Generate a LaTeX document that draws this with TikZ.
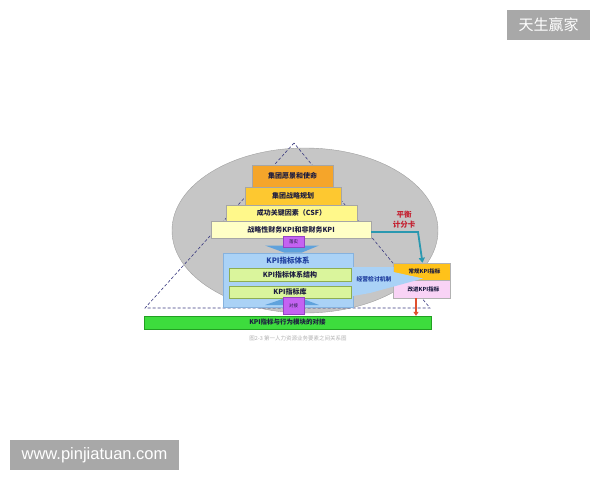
\documentclass[tikz,border=0pt]{standalone}
\usepackage{fontspec}
\newfontfamily\cjk{Noto Sans CJK SC}
\newfontfamily\urlfont{Liberation Sans}
\usetikzlibrary{arrows.meta,shapes.geometric}
\definecolor{ellfill}{HTML}{C6C6C6}
\definecolor{elldraw}{HTML}{A0A0A0}
\definecolor{dashc}{HTML}{3A3A80}
\definecolor{c1}{HTML}{F5A52A}
\definecolor{c2}{HTML}{FDC830}
\definecolor{c3}{HTML}{FFF88A}
\definecolor{c4}{HTML}{FFFFC6}
\definecolor{bluebox}{HTML}{AAD2F6}
\definecolor{blueedge}{HTML}{86B2DE}
\definecolor{greenbox}{HTML}{DAF59C}
\definecolor{greenedge}{HTML}{8EAE52}
\definecolor{barfill}{HTML}{3DDC3D}
\definecolor{baredge}{HTML}{22A022}
\definecolor{purp}{HTML}{C462F2}
\definecolor{purpedge}{HTML}{9443C4}
\definecolor{arrblue}{HTML}{5FA2DC}
\definecolor{okfill}{HTML}{FFC21A}
\definecolor{pkfill}{HTML}{F9D3F6}
\definecolor{tealc}{HTML}{2A98B0}
\definecolor{redc}{HTML}{E0502E}
\definecolor{bscred}{HTML}{C42030}
\definecolor{txt}{HTML}{1C1C40}
\definecolor{titleblue}{HTML}{1F3F9F}
\definecolor{wm}{HTML}{A8A8A8}
\tikzset{
  pbox/.style={draw=#1, inner sep=0pt, line width=0.4pt, text=txt, font=\cjk\bfseries\fontsize{7}{8}\selectfont},
  pbox/.default=gray!70,
  pnode/.style={draw=purpedge, fill=purp, inner sep=0pt, line width=0.4pt, text=txt, font=\cjk\fontsize{4.5}{5}\selectfont, minimum width=21pt},
  dashline/.style={draw=dashc, dash pattern=on 3pt off 2pt, line width=0.6pt},
}
\begin{document}
\begin{tikzpicture}[x=1pt,y=-1pt]
\useasboundingbox (0,0) rectangle (600,480);
\fill[white] (0,0) rectangle (600,480);
% ellipse
\node[ellipse, draw=elldraw, fill=ellfill, minimum width=266pt, minimum height=165pt, inner sep=0pt] (ell) at (305,230.5) {};
% dashed triangle
\coordinate (apex) at (294,143);
\coordinate (bl) at (145,308);
\coordinate (br) at (430,308);
\draw[dashline] (apex) -- (bl) -- (br) -- cycle;
% pyramid boxes
\node[pbox, fill=c1, minimum width=81pt, minimum height=22pt] (b1) at (292.5,176) {集团愿景和使命};
\node[pbox, fill=c2, minimum width=96pt, minimum height=18pt] (b2) at (293,196) {集团战略规划};
\node[pbox, fill=c3, minimum width=131pt, minimum height=16pt] (b3) at (291.5,213) {成功关键因素（CSF）};
\node[pbox, fill=c4, minimum width=160pt, minimum height=17pt] (b4) at (291,229.5) {战略性财务KPI和非财务KPI};
% blue system box
\node[draw=blueedge, fill=bluebox, inner sep=0pt, minimum width=130pt, minimum height=54pt] (sys) at (288,280) {};
\node[text=titleblue, font=\cjk\bfseries\fontsize{7.5}{8}\selectfont, inner sep=0pt] (systitle) at (288,260.5) {KPI指标体系};
\node[pbox=greenedge, fill=greenbox, minimum width=122pt, minimum height=13pt] (g1) at (290,274.5) {KPI指标体系结构};
\node[pbox=greenedge, fill=greenbox, minimum width=122pt, minimum height=12pt] (g2) at (290,292) {KPI指标库};
% chevrons and purple boxes
\fill[arrblue] (265,245.5) -- (319,245.5) -- (302,252.5) -- (284,252.5) -- cycle;
\node[pnode, minimum height=11pt] (lsh) at (293.5,242) {落实};
\fill[arrblue] (265,305) -- (319,305) -- (302,298.5) -- (284,298.5) -- cycle;
\node[pnode, minimum height=17pt] (dj) at (293.5,305.5) {对接};
% bottom bar
\node[pbox=baredge, fill=barfill, minimum width=287pt, minimum height=13pt, font=\cjk\bfseries\fontsize{6.5}{7}\selectfont] (bar) at (287.5,322.5) {KPI指标与行为模块的对接};
% right boxes
\node[draw=gray!60, fill=okfill, inner sep=0pt, minimum width=57pt, minimum height=17pt, text=txt, font=\cjk\bfseries\fontsize{5.5}{6}\selectfont] (ok) at (421.5,271.5) {\hspace*{6pt}常规KPI指标};
\node[draw=gray!60, fill=pkfill, inner sep=0pt, minimum width=57pt, minimum height=18pt] (pk) at (421.5,289) {};
% wedge (review mechanism)
\fill[bluebox] (353,267) -- (393.5,267) -- (393.5,272) -- (423,278.5) -- (370,293) -- (353,296) -- cycle;
\node[text=txt, font=\cjk\bfseries\fontsize{5.5}{6}\selectfont, inner sep=0pt] (pktxt) at ([xshift=2pt]pk.center) {改进KPI指标};
\node[text=titleblue, font=\cjk\bfseries\fontsize{5.8}{6}\selectfont, inner sep=0pt] (rev) at (374,279) {经营检讨机制};
% balanced scorecard label
\node[text=bscred, font=\cjk\bfseries\fontsize{7.5}{10}\selectfont, align=center, inner sep=0pt] (bsc) at (404,220) {平衡\\计分卡};
% teal arrow
\coordinate (tc) at (418,232);
\draw[tealc, line width=1.8pt, -{Triangle[length=5pt,width=6pt]}] ([yshift=-2.5pt]b4.east) -- (tc) -- ([xshift=1pt]ok.north);
% red arrow
\draw[redc, line width=1.4pt, -{Triangle[length=4pt,width=5pt]}] ([xshift=-5.5pt]pk.south) -- ([xshift=-5.5pt]pk.south |- bar.north);
% caption
\node[text=gray!60, font=\cjk\fontsize{5.5}{6}\selectfont, inner sep=0pt] (cap) at (298,338) {图2-3 第一人力资源业务要素之间关系图};
% watermarks
\node[fill=wm, text=white, inner sep=0pt, minimum width=83pt, minimum height=30pt, font=\cjk\fontsize{15}{16}\selectfont] (wm1) at (548.5,25) {天生赢家};
\node[fill=wm, text=white, inner sep=0pt, minimum width=169pt, minimum height=30pt, font=\urlfont\fontsize{16.5}{18}\selectfont] (wm2) at (94.5,455) {www.pinjiatuan.com};
\end{tikzpicture}
\end{document}
